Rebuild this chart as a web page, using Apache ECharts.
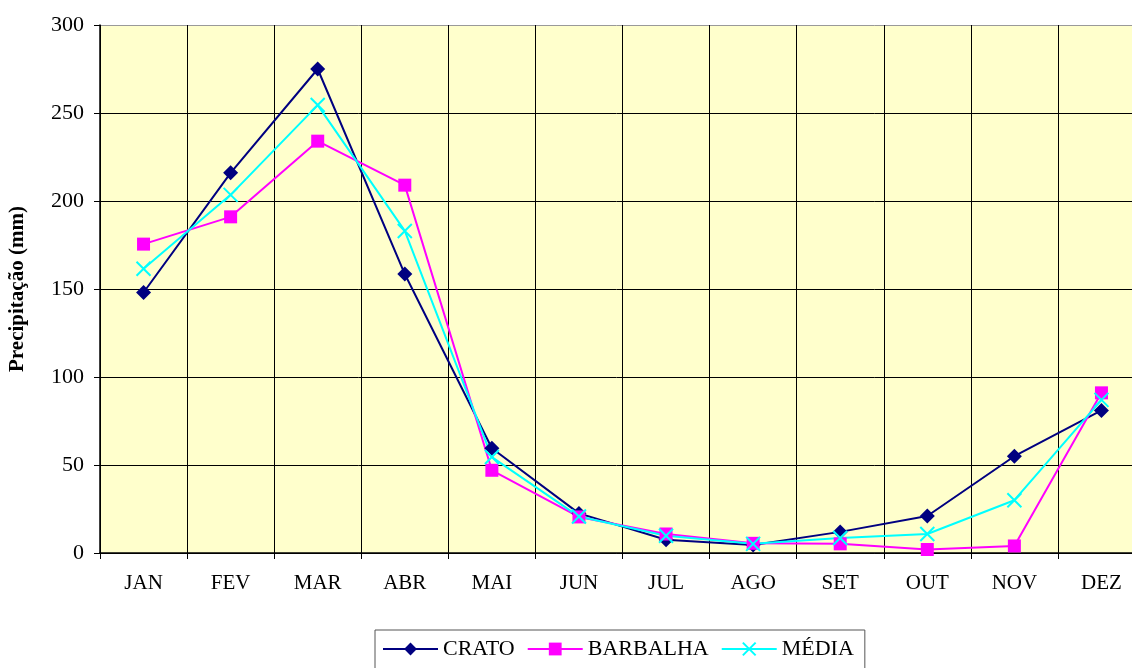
<!DOCTYPE html>
<html>
<head>
<meta charset="utf-8">
<script src="https://cdn.jsdelivr.net/npm/echarts@6/dist/echarts.min.js"></script>
<style>
  html, body { margin: 0; padding: 0; background: #fff; }
  #chart { width: 1132px; height: 668px; }
</style>
</head>
<body>
<div id="chart"></div>
<script>
// Monthly rainfall (mm): Crato, Barbalha and their mean
const months = ['JAN', 'FEV', 'MAR', 'ABR', 'MAI', 'JUN', 'JUL', 'AGO', 'SET', 'OUT', 'NOV', 'DEZ'];
const crato    = [148, 216, 275, 158.5, 59.5, 22.5, 7.5, 4.5, 12, 21, 55, 81];
const barbalha = [175.5, 191, 234, 209, 47, 20.5, 10.8, 5.5, 5.2, 2, 4, 91];
const media    = [161.5, 203.5, 254.5, 183, 54.5, 20.7, 9.8, 5.2, 8.5, 10.8, 30, 87];
const yTicks   = { min: 0, max: 300, interval: 50 };

const serif = '"Liberation Serif", "Times New Roman", serif';
const crossPath = 'path://M0,0L10,10M10,0L0,10';

const chart = echarts.init(document.getElementById('chart'), null, { renderer: 'canvas' });

chart.setOption({
  animation: false,
  backgroundColor: '#ffffff',
  grid: {
    left: 100, top: 25, width: 1045, height: 528,
    containLabel: false,
    outerBoundsMode: 'none',
    show: true, backgroundColor: '#FFFFCC', borderWidth: 0
  },
  xAxis: {
    type: 'category',
    data: months,
    boundaryGap: true,
    axisLine: { lineStyle: { color: '#000', width: 1.5 } },
    axisTick: { show: true, length: 6, lineStyle: { color: '#000' } },
    axisLabel: { color: '#000', fontFamily: serif, fontSize: 21, margin: 20 },
    splitLine: { show: true, lineStyle: { color: '#000', width: 1 } }
  },
  yAxis: {
    type: 'value',
    min: yTicks.min, max: yTicks.max, interval: yTicks.interval,
    name: 'Precipitação (mm)',
    nameLocation: 'middle',
    nameRotate: 90,
    nameGap: 72,
    nameTextStyle: {
      color: '#000', fontFamily: serif, fontSize: 21, fontWeight: 'bold'
    },
    axisLine: { show: true, lineStyle: { color: '#000', width: 1.5 } },
    axisTick: { show: true, length: 6, lineStyle: { color: '#000' } },
    axisLabel: { color: '#000', fontFamily: serif, fontSize: 22, margin: 16 },
    splitLine: {
      show: true,
      lineStyle: { color: ['#000', '#000', '#000', '#000', '#000', '#000', '#999'], width: 1 }
    }
  },
  legend: {
    left: 375, top: 630,
    padding: [8, 11, 20, 7],
    borderColor: '#555', borderWidth: 1,
    itemWidth: 55, itemHeight: 16, itemGap: 12,
    textStyle: { color: '#000', fontFamily: serif, fontSize: 22 },
    data: ['CRATO', 'BARBALHA', 'MÉDIA']
  },
  series: [
    {
      name: 'CRATO', type: 'line', data: crato,
      symbol: 'diamond', symbolSize: 15,
      lineStyle: { color: '#000080', width: 2 },
      itemStyle: { color: '#000080' }
    },
    {
      name: 'BARBALHA', type: 'line', data: barbalha,
      symbol: 'rect', symbolSize: 13,
      lineStyle: { color: '#FF00FF', width: 2 },
      itemStyle: { color: '#FF00FF' }
    },
    {
      name: 'MÉDIA', type: 'line', data: media,
      symbol: crossPath, symbolSize: 14,
      lineStyle: { color: '#00FFFF', width: 2 },
      itemStyle: { color: 'rgba(0,0,0,0)', borderColor: '#00FFFF', borderWidth: 2 }
    }
  ]
});
</script>
</body>
</html>
